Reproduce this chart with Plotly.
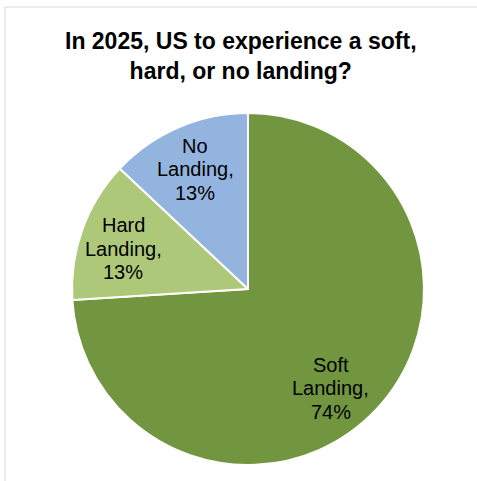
import math
import plotly.graph_objects as go

labels = ["Soft Landing", "Hard Landing", "No Landing"]
label_lines = [["Soft", "Landing,"], ["Hard", "Landing,"], ["No", "Landing,"]]
values = [74, 13, 13]
colors = ["#71963F", "#AEC87A", "#93B4DF"]

W, H = 477, 481
cx, cy, r = 248, 289, 176
label_radius = 0.74
label_nudge = [(-12, 10), (-2, 4), (-1, 0)]  # pixel nudges (style)
line_gap = 23.5
FONT = "Liberation Sans, Arial"

fig = go.Figure(go.Pie(
    labels=labels,
    values=values,
    sort=False,
    direction="clockwise",
    rotation=0,
    marker=dict(colors=colors, line=dict(color="white", width=2)),
    textinfo="none",
    hoverinfo="label+percent",
    showlegend=False,
    domain=dict(x=[(cx - r) / W, (cx + r) / W], y=[1 - (cy + r) / H, 1 - (cy - r) / H]),
))

annotations = [dict(
    text="<b>In 2025, US to experience a soft,<br>hard, or no landing?</b>",
    x=241 / W, y=1 - 56 / H, xref="paper", yref="paper",
    xanchor="center", yanchor="middle", showarrow=False,
    font=dict(family=FONT, size=23, color="black"),
)]

total = sum(values)
cum = 0
for i, v in enumerate(values):
    mid = (cum + v / 2) / total * 2 * math.pi
    cum += v
    px = cx + label_radius * r * math.sin(mid) + label_nudge[i][0]
    py = cy - label_radius * r * math.cos(mid) + label_nudge[i][1]
    pct = f"{round(v / total * 100)}%"
    lines = label_lines[i] + [pct]
    for j, line in enumerate(lines):
        ly = py + (j - 1) * line_gap
        annotations.append(dict(
            text=line, x=px / W, y=1 - ly / H, xref="paper", yref="paper",
            xanchor="center", yanchor="middle", showarrow=False,
            font=dict(family=FONT, size=20, color="black"),
        ))

fig.update_layout(
    width=W, height=H,
    margin=dict(l=0, r=0, t=0, b=0),
    paper_bgcolor="white",
    annotations=annotations,
    shapes=[dict(type="rect", xref="paper", yref="paper",
                 x0=5 / W, x1=1.05, y0=-0.05, y1=1 - 7 / H,
                 line=dict(color="#D9D9D9", width=1))],
)

fig.write_html("out.html")
